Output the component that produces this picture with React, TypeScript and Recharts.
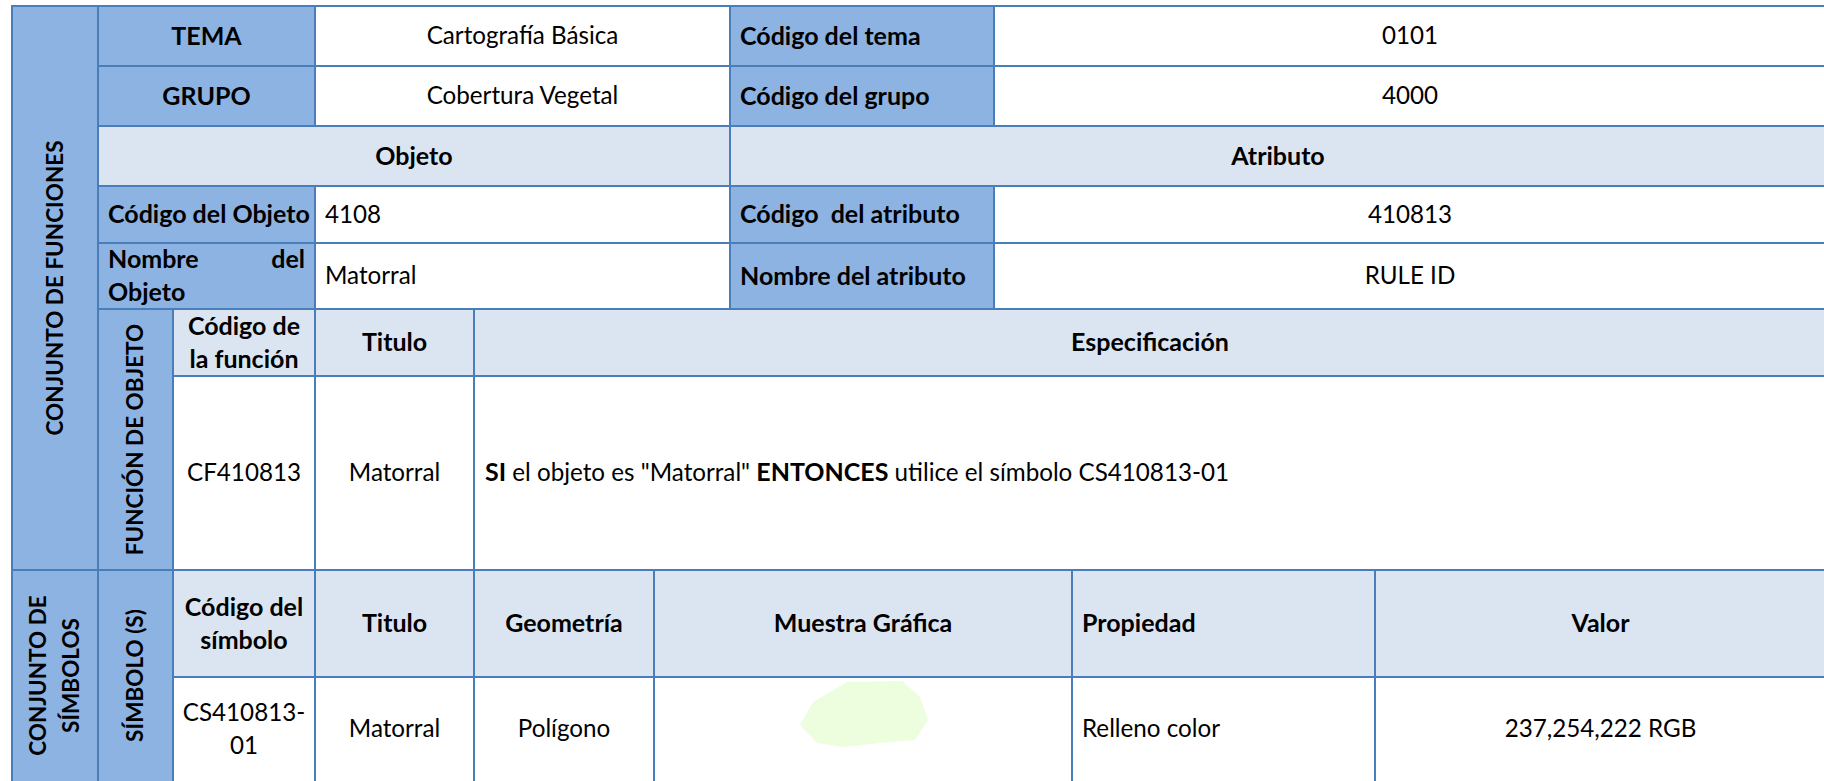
import React from 'react';
import { Surface, Layer, Rectangle, Polygon } from 'recharts';

// ---------- data ----------
const themeLabels = ['TEMA', 'GRUPO'];
const themeValues = ['Cartografía Básica', 'Cobertura Vegetal'];
const codeLabels = ['Código del tema', 'Código del grupo'];
const codeValues = ['0101', '4000'];
const sectionTitles = ['Objeto', 'Atributo'];
const objectLabels = ['Código del Objeto', 'Nombre del Objeto'];
const objectValues = ['4108', 'Matorral'];
const attributeLabels = ['Código  del atributo', 'Nombre del atributo'];
const attributeValues = ['410813', 'RULE ID'];
const sideTitles = ['CONJUNTO DE FUNCIONES', 'CONJUNTO DE\nSÍMBOLOS'];
const groupTitles = ['FUNCIÓN DE OBJETO', 'SÍMBOLO (S)'];
const functionHeaders = ['Código de\nla función', 'Titulo', 'Especificación'];
const functionRow = ['CF410813', 'Matorral'];
const specParts = [
  { text: 'SI', bold: true },
  { text: ' el objeto es "Matorral" ', bold: false },
  { text: 'ENTONCES', bold: true },
  { text: ' utilice el símbolo CS410813-01', bold: false },
];
const symbolHeaders = ['Código del\nsímbolo', 'Titulo', 'Geometría', 'Muestra Gráfica', 'Propiedad', 'Valor'];
const symbolRow = ['CS410813-\n01', 'Matorral', 'Polígono', '', 'Relleno color', '237,254,222 RGB'];
const fillRgb = [237, 254, 222];

// ---------- layout ----------
const W = 1824;
const H = 781;
const XA = 12, XB = 98, XC = 173, XD = 315, XE = 474, XF = 654, XG = 730, XH = 994, XI = 1072, XJ = 1375, XR = 1826;
const ROWS = [6, 66, 126, 186, 243, 309, 376, 570, 677, 800];
const DARK = '#8db3e2';
const LIGHT = '#dbe5f1';
const WHITE = '#ffffff';
const BORDER = '#4a7ebb';
const FONT = 'Lato, "Open Sans", sans-serif';
const FS = 24.2;
const FSB = 25;
const LH = 33;
const PAD = 10;
const blobShape = [
  [0, 44], [13, 21], [47, 1], [102, 0], [120, 16], [128, 39], [115, 59], [80, 62], [43, 66], [17, 62],
];

type Cell = { x0: number; x1: number; y0: number; y1: number; fill: string };

function T({ x, y, text, bold = false, anchor = 'middle', angle = 0, size }: any) {
  const lines = String(text).split('\n');
  const n = lines.length;
  return (
    <text
      x={x}
      y={y}
      textAnchor={anchor}
      fontFamily={FONT}
      fontSize={size ?? (bold ? FSB : FS)}
      fontWeight={bold ? 700 : 400}
      fill="#000"
      style={{ whiteSpace: 'pre' }}
      transform={angle ? `rotate(${angle} ${x} ${y})` : undefined}
    >
      {lines.map((l, i) => (
        <tspan key={i} x={x} y={y + (i - (n - 1) / 2) * LH} dy="0.35em">
          {l}
        </tspan>
      ))}
    </text>
  );
}

export default function App() {
  const R = ROWS;
  const cells: Cell[] = [];
  const add = (x0: number, x1: number, y0: number, y1: number, fill: string) => cells.push({ x0, x1, y0, y1, fill });

  // side columns
  add(XA, XB, R[0], R[7], DARK);
  add(XA, XB, R[7], R[9], DARK);
  add(XB, XC, R[5], R[7], DARK);
  add(XB, XC, R[7], R[9], DARK);
  // theme / group rows
  themeLabels.forEach((_, i) => {
    add(XB, XD, R[i], R[i + 1], DARK);
    add(XD, XG, R[i], R[i + 1], WHITE);
    add(XG, XH, R[i], R[i + 1], DARK);
    add(XH, XR, R[i], R[i + 1], WHITE);
  });
  // section titles
  add(XB, XG, R[2], R[3], LIGHT);
  add(XG, XR, R[2], R[3], LIGHT);
  // object rows
  objectLabels.forEach((_, i) => {
    const r = 3 + i;
    add(XB, XD, R[r], R[r + 1], DARK);
    add(XD, XG, R[r], R[r + 1], WHITE);
    add(XG, XH, R[r], R[r + 1], DARK);
    add(XH, XR, R[r], R[r + 1], WHITE);
  });
  // function section
  const fCols = [XC, XD, XE, XR];
  functionHeaders.forEach((_, i) => {
    add(fCols[i], fCols[i + 1], R[5], R[6], LIGHT);
    add(fCols[i], fCols[i + 1], R[6], R[7], WHITE);
  });
  // symbol section
  const sCols = [XC, XD, XE, XF, XI, XJ, XR];
  symbolHeaders.forEach((_, i) => {
    add(sCols[i], sCols[i + 1], R[7], R[8], LIGHT);
    add(sCols[i], sCols[i + 1], R[8], R[9], WHITE);
  });

  const mid = (a: number, b: number) => (a + b) / 2;
  const blobX = 800;
  const blobY = 681;

  return (
    <div style={{ position: 'absolute', left: 0, top: 0, width: W, height: H, background: '#fff' }}>
      <Surface width={W} height={H}>
        <Layer>
          {cells.map((c, i) => (
            <Rectangle
              key={i}
              x={c.x0}
              y={c.y0}
              width={c.x1 - c.x0}
              height={c.y1 - c.y0}
              fill={c.fill}
              stroke={BORDER}
              strokeWidth={2}
              isAnimationActive={false}
            />
          ))}
        </Layer>

        {/* side titles */}
        <T x={mid(XA, XB)} y={mid(R[0], R[7])} text={sideTitles[0]} bold angle={-90} size={22.5} />
        <T x={mid(XA, XB)} y={mid(R[7], 781)} text={sideTitles[1]} bold angle={-90} size={22.5} />
        <T x={mid(XB, XC)} y={mid(R[5], R[7])} text={groupTitles[0]} bold angle={-90} size={22.5} />
        <T x={mid(XB, XC)} y={mid(R[7], 781)} text={groupTitles[1]} bold angle={-90} size={22.5} />

        {/* theme / group */}
        {themeLabels.map((lab, i) => (
          <Layer key={lab}>
            <T x={mid(XB, XD)} y={mid(R[i], R[i + 1])} text={lab} bold />
            <T x={mid(XD, XG)} y={mid(R[i], R[i + 1])} text={themeValues[i]} />
            <T x={XG + PAD} y={mid(R[i], R[i + 1])} text={codeLabels[i]} bold anchor="start" />
            <T x={mid(XH, XR)} y={mid(R[i], R[i + 1])} text={codeValues[i]} />
          </Layer>
        ))}

        <T x={mid(XB, XG)} y={mid(R[2], R[3])} text={sectionTitles[0]} bold />
        <T x={mid(XG, XR)} y={mid(R[2], R[3])} text={sectionTitles[1]} bold />

        {/* object rows */}
        <T x={XB + PAD} y={mid(R[3], R[4])} text={objectLabels[0]} bold anchor="start" />
        {(() => {
          const words = objectLabels[1].split(' ');
          const yc = mid(R[4], R[5]);
          return (
            <Layer>
              <T x={XB + PAD} y={yc - LH / 2} text={words[0]} bold anchor="start" />
              <T x={XD - PAD} y={yc - LH / 2} text={words[1]} bold anchor="end" />
              <T x={XB + PAD} y={yc + LH / 2} text={words[2]} bold anchor="start" />
            </Layer>
          );
        })()}
        {objectValues.map((v, i) => (
          <T key={v} x={XD + PAD} y={mid(R[3 + i], R[4 + i])} text={v} anchor="start" />
        ))}
        {attributeLabels.map((l, i) => (
          <T key={l} x={XG + PAD} y={mid(R[3 + i], R[4 + i])} text={l} bold anchor="start" />
        ))}
        {attributeValues.map((v, i) => (
          <T key={v} x={mid(XH, XR)} y={mid(R[3 + i], R[4 + i])} text={v} />
        ))}

        {/* function section */}
        {functionHeaders.map((h, i) => (
          <T key={h} x={mid(fCols[i], fCols[i + 1])} y={mid(R[5], R[6])} text={h} bold />
        ))}
        {functionRow.map((v, i) => (
          <T key={i} x={mid(fCols[i], fCols[i + 1])} y={mid(R[6], R[7])} text={v} />
        ))}
        <text
          x={XE + PAD + 1}
          y={mid(R[6], R[7])}
          dy="0.35em"
          fontFamily={FONT}
          fontSize={FS}
          fill="#000"
          style={{ whiteSpace: 'pre' }}
        >
          {specParts.map((p, i) => (
            <tspan key={i} fontWeight={p.bold ? 700 : 400} fontSize={p.bold ? FSB : FS}>
              {p.text}
            </tspan>
          ))}
        </text>

        {/* symbol section */}
        {symbolHeaders.map((h, i) =>
          i === 4 ? (
            <T key={h} x={sCols[i] + PAD} y={mid(R[7], R[8])} text={h} bold anchor="start" />
          ) : (
            <T key={h} x={mid(sCols[i], sCols[i + 1])} y={mid(R[7], R[8])} text={h} bold />
          )
        )}
        {symbolRow.map((v, i) =>
          v === '' ? null : i === 4 ? (
            <T key={i} x={sCols[i] + PAD} y={mid(R[8], 781)} text={v} anchor="start" />
          ) : (
            <T key={i} x={mid(sCols[i], sCols[i + 1])} y={mid(R[8], 781)} text={v} />
          )
        )}
        <Polygon
          points={blobShape.map(([px, py]) => ({ x: blobX + px, y: blobY + py }))}
          fill={`rgb(${fillRgb.join(',')})`}
          stroke="none"
        />
      </Surface>
    </div>
  );
}
